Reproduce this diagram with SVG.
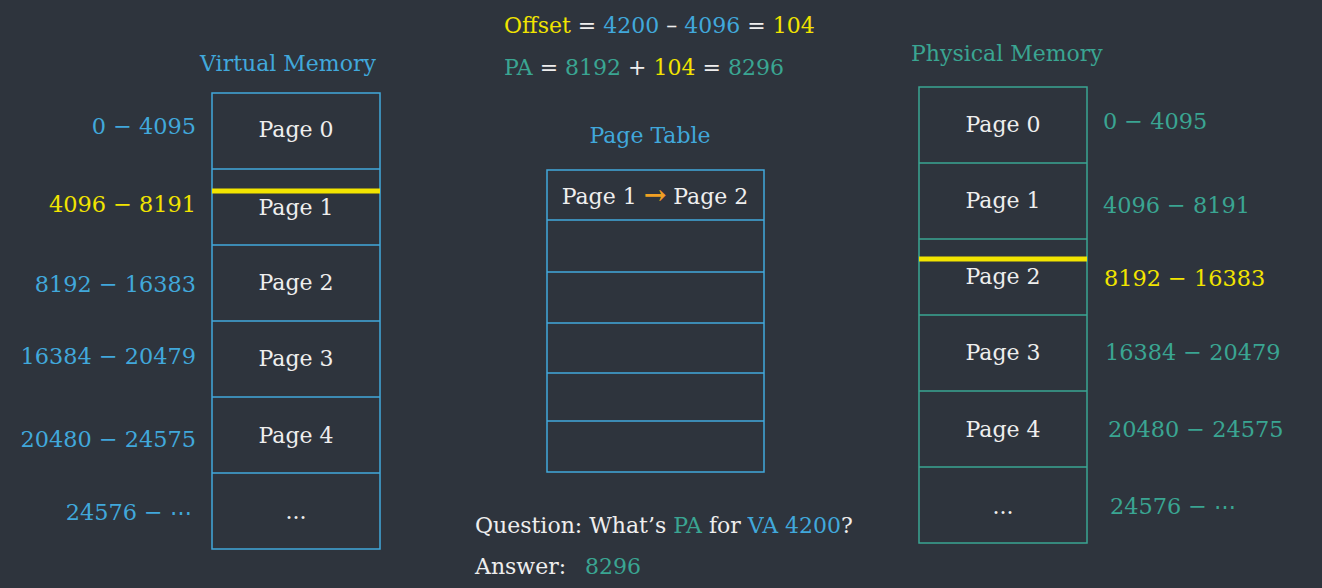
<svg xmlns="http://www.w3.org/2000/svg" width="1322" height="588" viewBox="0 0 1322 588">
<style>
text{font-family:"DejaVu Serif","Liberation Serif",serif;font-size:22px}
.r{font-size:22.4px}
.w{fill:#eeeeee}
.b{fill:#41a8db}
.t{fill:#3aa592}
.y{fill:#f2e400}
.o{fill:#f0a023}
.c{text-anchor:middle}
.e{text-anchor:end}
.vb{fill:none;stroke:#41a8db;stroke-width:1.5}
.pb{fill:none;stroke:#3aa592;stroke-width:1.5}
.hl{stroke:#f2e400;stroke-width:5}
</style>
<rect width="1322" height="588" fill="#2e343d"/>

<g id="equations">
<text x="504" y="33"><tspan class="y">Offset</tspan><tspan class="w"> = </tspan><tspan class="b">4200</tspan><tspan class="w"> – </tspan><tspan class="b">4096</tspan><tspan class="w"> = </tspan><tspan class="y">104</tspan></text>
<text x="504" y="75"><tspan class="t">PA</tspan><tspan class="w"> = </tspan><tspan class="t">8192</tspan><tspan class="w"> + </tspan><tspan class="y">104</tspan><tspan class="w"> = </tspan><tspan class="t">8296</tspan></text>
</g>

<g id="virtual-memory">
<text class="b c" x="288" y="71" font-size="21.5">Virtual Memory</text>
<rect class="vb" x="212" y="93" width="168" height="456"/>
<path class="vb" d="M212 169H380M212 245H380M212 321H380M212 397H380M212 473H380"/>
<line class="hl" x1="212" y1="191" x2="380" y2="191"/>
<text class="w c" x="296" y="137">Page 0</text>
<text class="w c" x="296" y="215">Page 1</text>
<text class="w c" x="296" y="290">Page 2</text>
<text class="w c" x="296" y="366">Page 3</text>
<text class="w c" x="296" y="443">Page 4</text>
<text class="w c" x="296" y="519">...</text>
<text class="r b e" x="196" y="134">0 − 4095</text>
<text class="r y e" x="196" y="212">4096 − 8191</text>
<text class="r b e" x="196" y="292">8192 − 16383</text>
<text class="r b e" x="196" y="364">16384 − 20479</text>
<text class="r b e" x="196" y="447">20480 − 24575</text>
<text class="r b e" x="192" y="520">24576 − ⋯</text>
</g>

<g id="page-table">
<text class="b c" x="650" y="143">Page Table</text>
<rect class="vb" x="547" y="170" width="217" height="302"/>
<path class="vb" d="M547 220H764M547 272H764M547 323H764M547 373H764M547 421H764"/>
<text class="w c" x="655" y="204">Page 1 <tspan class="o" font-weight="bold" font-size="27">→</tspan> Page 2</text>
</g>

<g id="physical-memory">
<text class="t" x="911" y="61" font-size="21">Physical Memory</text>
<rect class="pb" x="919" y="87" width="168" height="456"/>
<path class="pb" d="M919 163H1087M919 239H1087M919 315H1087M919 391H1087M919 467H1087"/>
<line class="hl" x1="919" y1="259" x2="1087" y2="259"/>
<text class="w c" x="1003" y="132">Page 0</text>
<text class="w c" x="1003" y="208">Page 1</text>
<text class="w c" x="1003" y="284">Page 2</text>
<text class="w c" x="1003" y="360">Page 3</text>
<text class="w c" x="1003" y="437">Page 4</text>
<text class="w c" x="1003" y="514">...</text>
<text class="r t" x="1103" y="129">0 − 4095</text>
<text class="r t" x="1103" y="213">4096 − 8191</text>
<text class="r y" x="1104" y="286">8192 − 16383</text>
<text class="r t" x="1105" y="360">16384 − 20479</text>
<text class="r t" x="1108" y="437">20480 − 24575</text>
<text class="r t" x="1110" y="514">24576 − ⋯</text>
</g>

<g id="question">
<text class="w" x="475" y="533">Question: What’s <tspan class="t">PA</tspan> for <tspan class="b">VA 4200</tspan>?</text>
<text class="w" x="475" y="574">Answer: <tspan class="t" x="585">8296</tspan></text>
</g>

<g id="connectors"></g>
</svg>
